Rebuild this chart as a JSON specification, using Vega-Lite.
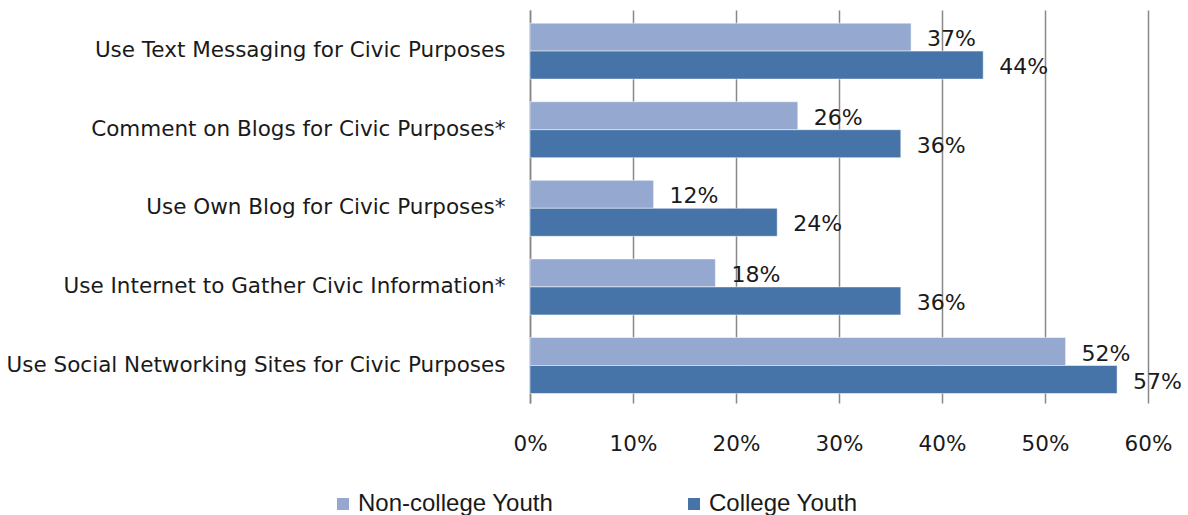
{
  "$schema": "https://vega.github.io/schema/vega-lite/v6.json",
  "width": 618,
  "height": 393,
  "autosize": {"type": "none"},
  "padding": {"left": 530, "top": 10, "right": 40, "bottom": 112},
  "background": "white",
  "config": {"view": {"stroke": null}},
  "data": {
    "values": [
      {"activity": "Use Text Messaging for Civic Purposes", "group": "Non-college Youth", "value": 0.37},
      {"activity": "Use Text Messaging for Civic Purposes", "group": "College Youth", "value": 0.44},
      {"activity": "Comment on Blogs for Civic Purposes*", "group": "Non-college Youth", "value": 0.26},
      {"activity": "Comment on Blogs for Civic Purposes*", "group": "College Youth", "value": 0.36},
      {"activity": "Use Own Blog for Civic Purposes*", "group": "Non-college Youth", "value": 0.12},
      {"activity": "Use Own Blog for Civic Purposes*", "group": "College Youth", "value": 0.24},
      {"activity": "Use Internet to Gather Civic Information*", "group": "Non-college Youth", "value": 0.18},
      {"activity": "Use Internet to Gather Civic Information*", "group": "College Youth", "value": 0.36},
      {"activity": "Use Social Networking Sites for Civic Purposes", "group": "Non-college Youth", "value": 0.52},
      {"activity": "Use Social Networking Sites for Civic Purposes", "group": "College Youth", "value": 0.57}
    ]
  },
  "encoding": {
    "y": {
      "field": "activity",
      "type": "nominal",
      "sort": null,
      "scale": {"paddingInner": 0.288, "paddingOuter": 0.144, "align": 0.58},
      "axis": {
        "title": null,
        "ticks": false,
        "domain": true,
        "domainColor": "#888888",
        "domainWidth": 1.5,
        "labelFont": "DejaVu Sans",
        "labelFontSize": 21.5,
        "labelColor": "#1a1a1a",
        "labelPadding": 25,
        "labelLimit": 600
      }
    },
    "yOffset": {"field": "group", "type": "nominal", "sort": ["Non-college Youth", "College Youth"]},
    "x": {
      "field": "value",
      "type": "quantitative",
      "scale": {"domain": [0, 0.6], "nice": false},
      "axis": {
        "title": null,
        "format": ".0%",
        "values": [0, 0.1, 0.2, 0.3, 0.4, 0.5, 0.6],
        "grid": true,
        "gridColor": "#888888",
        "gridWidth": 1.5,
        "ticks": false,
        "domain": false,
        "labelFlush": false,
        "labelFont": "DejaVu Sans",
        "labelFontSize": 21.5,
        "labelColor": "#1a1a1a",
        "labelPadding": 30
      }
    }
  },
  "layer": [
    {
      "mark": {"type": "bar", "stroke": "white", "strokeWidth": 0.5},
      "encoding": {
        "color": {
          "field": "group",
          "type": "nominal",
          "sort": ["Non-college Youth", "College Youth"],
          "scale": {"domain": ["Non-college Youth", "College Youth"], "range": ["#95a9d0", "#4674a8"]},
          "legend": {
            "title": null,
            "orient": "none",
            "legendX": -199,
            "legendY": 482,
            "direction": "horizontal",
            "columns": 2,
            "columnPadding": 128,
            "padding": 0,
            "symbolType": "square",
            "symbolSize": 144,
            "symbolStrokeWidth": 0,
            "labelFont": "Liberation Sans",
            "labelFontSize": 24,
            "labelColor": "#1a1a1a",
            "labelOffset": 3,
            "labelLimit": 400
          }
        }
      }
    },
    {
      "mark": {"type": "text", "align": "left", "baseline": "middle", "dx": 16, "dy": 2, "font": "DejaVu Sans", "fontSize": 22, "color": "#1a1a1a"},
      "encoding": {
        "text": {"field": "value", "type": "quantitative", "format": ".0%"}
      }
    }
  ]
}
